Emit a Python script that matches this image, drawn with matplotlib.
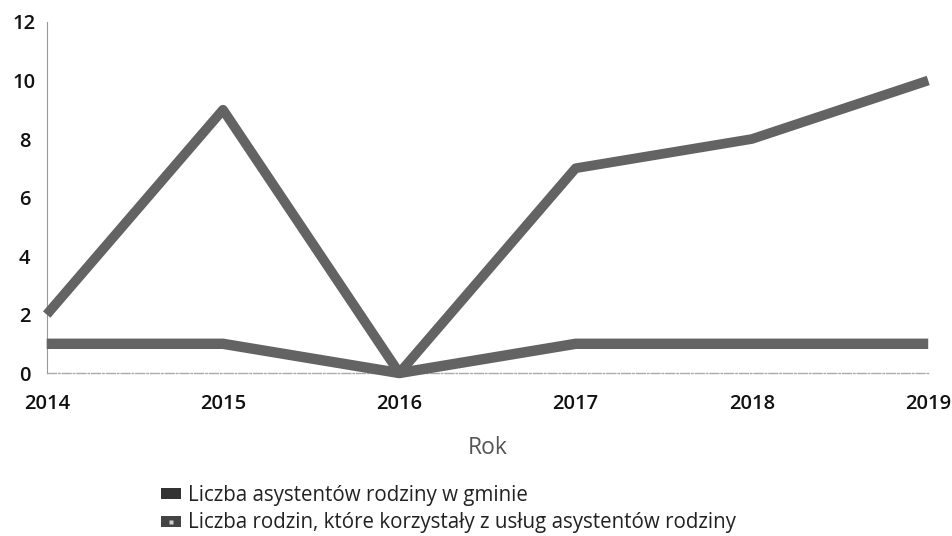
import matplotlib.pyplot as plt
from matplotlib.lines import Line2D
from matplotlib.patches import Patch

plt.rcParams['font.family'] = ['Open Sans', 'DejaVu Sans']

# Family assistant data per year
years = [2014, 2015, 2016, 2017, 2018, 2019]
assistants = [1, 1, 0, 1, 1, 1]
families = [2, 9, 0, 7, 8, 10]
y_ticks = [0, 2, 4, 6, 8, 10, 12]

label_assistants = 'Liczba asystentów rodziny w gminie'
label_families = 'Liczba rodzin, które korzystały z usług asystentów rodziny'

line_color = '#636363'

fig = plt.figure(figsize=(9.53, 5.36), dpi=100)
ax = fig.add_axes([0.049, 0.304, 0.925, 0.655])

ax.plot(years, assistants, color=line_color, linewidth=7.5, solid_joinstyle='round',
        solid_capstyle='butt', clip_on=False, zorder=3)
ax.plot(years, families, color=line_color, linewidth=7, solid_joinstyle='round',
        solid_capstyle='butt', clip_on=False, zorder=3)

ax.set_xlim(2014, 2019)
ax.set_ylim(0, 12)
ax.set_xticks(years)
ax.set_xticklabels([str(y) for y in years])
ax.set_yticks(y_ticks)
ax.tick_params(axis='both', length=0, labelsize=14.5, colors='#111111')
ax.tick_params(axis='x', pad=15)
ax.tick_params(axis='y', pad=16)

for lab in ax.get_xticklabels() + ax.get_yticklabels():
    lab.set_fontweight('semibold')
for lab in ax.get_yticklabels():
    lab.set_horizontalalignment('center')

ax.spines['top'].set_visible(False)
ax.spines['right'].set_visible(False)
ax.spines['left'].set_color('#999999')
ax.spines['left'].set_linewidth(0.8)
ax.spines['bottom'].set_color('#aaaaaa')
ax.spines['bottom'].set_linewidth(1.0)
ax.spines['bottom'].set_linestyle('-.')

ax.set_xlabel('Rok', fontsize=16.5, color='#555555', labelpad=16)

# legend swatches: flat rectangles, the second with a small light mark
handles = [
    Patch(facecolor='#333333', edgecolor='none'),
    (Patch(facecolor='#444444', edgecolor='none'),
     Line2D([], [], linestyle='none', marker='s', markersize=3.5,
            markerfacecolor='#cfcfcf', markeredgecolor='none')),
]
fig.legend(handles, [label_assistants, label_families], loc='upper left',
           bbox_to_anchor=(0.1605, 0.110), frameon=False, fontsize=14.8,
           handlelength=0.95, handleheight=0.45, handletextpad=0.35,
           labelspacing=0.3, borderaxespad=0, labelcolor='#222222')

fig.savefig('out.png', dpi=100, facecolor='white')
